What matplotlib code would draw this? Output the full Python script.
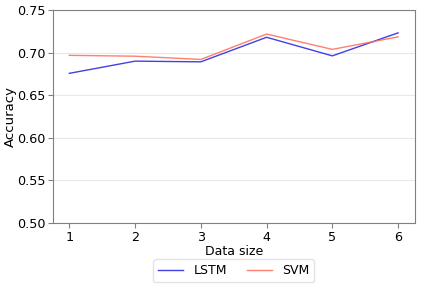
import matplotlib.pyplot as plt

data_size = [1, 2, 3, 4, 5, 6]
lstm_acc = [0.6757, 0.6900, 0.6892, 0.7180, 0.6962, 0.7232]
svm_acc = [0.6968, 0.6958, 0.6920, 0.7218, 0.7038, 0.7185]

fig, ax = plt.subplots(figsize=(4.23, 2.86), dpi=100)
ax.plot(data_size, lstm_acc, color='#2020e0', alpha=0.85, linewidth=1.0, label='LSTM')
ax.plot(data_size, svm_acc, color='#ff6a55', alpha=0.85, linewidth=1.0, label='SVM')

ax.set_ylim(0.50, 0.75)
ax.set_xticks(data_size)
ax.set_xlabel('Data size', fontsize=9, labelpad=1)
ax.set_ylabel('Accuracy', fontsize=9.5, labelpad=0)
ax.tick_params(labelsize=9.2, color='#808080', length=3.5, pad=2)
ax.yaxis.grid(True, color='#e8e8e8', linewidth=0.8)
ax.set_axisbelow(True)
for s in ax.spines.values():
    s.set_color('#808080')

leg = ax.legend(loc='upper center', bbox_to_anchor=(0.5, -0.14), ncol=2, fontsize=9,
                columnspacing=1.6, handlelength=2.0, handletextpad=0.8)
leg.get_frame().set_edgecolor('#dddddd')
fig.subplots_adjust(left=0.125, right=0.98, top=0.965, bottom=0.22)
fig.savefig('out.png')
